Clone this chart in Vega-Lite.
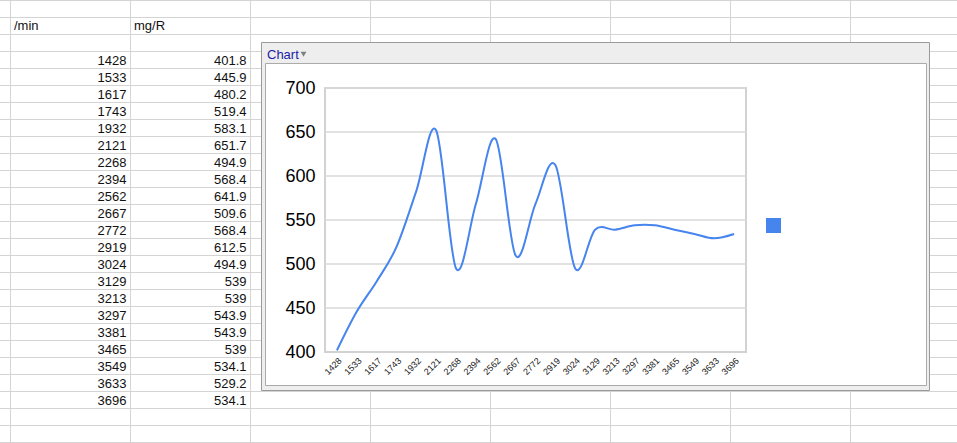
{
  "$schema": "https://vega.github.io/schema/vega-lite/v6.json",
  "width": 421,
  "height": 264,
  "autosize": {"type": "none"},
  "padding": {"left": 325, "top": 88, "right": 211, "bottom": 91},
  "background": "white",
  "config": {
    "view": {"stroke": null},
    "font": "Liberation Sans",
    "axis": {"grid": false, "domain": false, "ticks": false, "labelFont": "Liberation Sans", "labelColor": "#000000"},
    "axisX": {"labelAngle": 315, "labelFontSize": 9, "labelPadding": 4, "labelColor": "#222222"},
    "axisY": {"labelFontSize": 18, "labelPadding": 10}
  },
  "datasets": {
    "engine": [
      {"rpm": 1428, "mgR": 401.8},
      {"rpm": 1533, "mgR": 445.9},
      {"rpm": 1617, "mgR": 480.2},
      {"rpm": 1743, "mgR": 519.4},
      {"rpm": 1932, "mgR": 583.1},
      {"rpm": 2121, "mgR": 651.7},
      {"rpm": 2268, "mgR": 494.9},
      {"rpm": 2394, "mgR": 568.4},
      {"rpm": 2562, "mgR": 641.9},
      {"rpm": 2667, "mgR": 509.6},
      {"rpm": 2772, "mgR": 568.4},
      {"rpm": 2919, "mgR": 612.5},
      {"rpm": 3024, "mgR": 494.9},
      {"rpm": 3129, "mgR": 539},
      {"rpm": 3213, "mgR": 539},
      {"rpm": 3297, "mgR": 543.9},
      {"rpm": 3381, "mgR": 543.9},
      {"rpm": 3465, "mgR": 539},
      {"rpm": 3549, "mgR": 534.1},
      {"rpm": 3633, "mgR": 529.2},
      {"rpm": 3696, "mgR": 534.1}
    ],
    "sheetRows": [
      {"r": 0}, {"r": 1}, {"r": 2}, {"r": 3}, {"r": 4}, {"r": 5}, {"r": 6}, {"r": 7}, {"r": 8},
      {"r": 9}, {"r": 10}, {"r": 11}, {"r": 12}, {"r": 13}, {"r": 14}, {"r": 15}, {"r": 16},
      {"r": 17}, {"r": 18}, {"r": 19}, {"r": 20}, {"r": 21}, {"r": 22}, {"r": 23}, {"r": 24},
      {"r": 25}, {"r": 26}
    ],
    "sheetCols": [
      {"c": 0}, {"c": 1}, {"c": 2}, {"c": 3}, {"c": 4}, {"c": 5}, {"c": 6}, {"c": 7}
    ],
    "headers": [
      {"label": "/min", "col": 0},
      {"label": "mg/R", "col": 1}
    ],
    "gridY": [
      {"v": 450}, {"v": 500}, {"v": 550}, {"v": 600}, {"v": 650}, {"v": 700}
    ]
  },
  "layer": [
    {
      "layer": [
        {
          "data": {"name": "sheetRows"},
          "mark": {"type": "rule", "color": "#d4d4d4", "strokeWidth": 1},
          "encoding": {
            "y": {"field": "r", "type": "quantitative", "scale": {"domain": [5.147059, 20.676471], "reverse": true, "nice": false, "zero": false}, "axis": null},
            "x": {"datum": -0.2, "type": "quantitative", "scale": {"domain": [2.620833, 6.129167], "nice": false, "zero": false}, "axis": null},
            "x2": {"datum": 8}
          }
        },
        {
          "data": {"name": "sheetCols"},
          "mark": {"type": "rule", "color": "#d4d4d4", "strokeWidth": 1},
          "encoding": {
            "x": {"field": "c", "type": "quantitative", "scale": {"domain": [2.620833, 6.129167], "nice": false, "zero": false}, "axis": null},
            "y": {"datum": -0.1, "type": "quantitative", "scale": {"domain": [5.147059, 20.676471], "reverse": true, "nice": false, "zero": false}, "axis": null},
            "y2": {"datum": 26.2}
          }
        },
        {
          "data": {"values": [{}]},
          "mark": {"type": "rect", "fill": "#eeeeee", "stroke": "#9a9a9a", "strokeWidth": 1},
          "encoding": {
            "x": {"datum": 2.091667, "type": "quantitative", "axis": null},
            "x2": {"datum": 7.658333},
            "y": {"datum": 2.470588, "type": "quantitative", "axis": null},
            "y2": {"datum": 22.941176}
          }
        },
        {
          "data": {"values": [{}]},
          "mark": {"type": "rect", "fill": "#ffffff", "stroke": "#aaaaaa", "strokeWidth": 1},
          "encoding": {
            "x": {"datum": 2.125, "type": "quantitative", "axis": null},
            "x2": {"datum": 7.633333},
            "y": {"datum": 3.705882, "type": "quantitative", "axis": null},
            "y2": {"datum": 22.647059}
          }
        },
        {
          "data": {"values": [{}]},
          "mark": {"type": "text", "text": "Chart", "align": "left", "baseline": "middle", "fontSize": 13, "color": "#1c1ca6", "font": "Liberation Sans"},
          "encoding": {
            "x": {"datum": 2.1375, "type": "quantitative", "axis": null},
            "y": {"datum": 3.206, "type": "quantitative", "axis": null}
          }
        },
        {
          "data": {"values": [{}]},
          "mark": {"type": "point", "shape": "triangle-down", "size": 34, "filled": true, "color": "#808080", "opacity": 1},
          "encoding": {
            "x": {"datum": 2.4417, "type": "quantitative", "axis": null},
            "y": {"datum": 3.16, "type": "quantitative", "axis": null}
          }
        },
        {
          "data": {"name": "headers"},
          "mark": {"type": "text", "align": "left", "baseline": "middle", "dx": 3.5, "fontSize": 13, "color": "#111111", "font": "Liberation Sans"},
          "encoding": {
            "x": {"field": "col", "type": "quantitative", "axis": null},
            "y": {"datum": 1.5, "type": "quantitative", "axis": null},
            "text": {"field": "label", "type": "nominal"}
          }
        },
        {
          "data": {"name": "engine"},
          "transform": [{"window": [{"op": "row_number", "as": "rn"}]}],
          "mark": {"type": "text", "align": "right", "baseline": "middle", "dx": -4, "dy": 43.5, "fontSize": 13, "color": "#111111", "font": "Liberation Sans"},
          "encoding": {
            "x": {"datum": 1, "type": "quantitative", "axis": null},
            "y": {"field": "rn", "type": "quantitative", "axis": null},
            "text": {"field": "rpm", "type": "quantitative"}
          }
        },
        {
          "data": {"name": "engine"},
          "transform": [{"window": [{"op": "row_number", "as": "rn"}]}],
          "mark": {"type": "text", "align": "right", "baseline": "middle", "dx": -4, "dy": 43.5, "fontSize": 13, "color": "#111111", "font": "Liberation Sans"},
          "encoding": {
            "x": {"datum": 2, "type": "quantitative", "axis": null},
            "y": {"field": "rn", "type": "quantitative", "axis": null},
            "text": {"field": "mgR", "type": "quantitative"}
          }
        }
      ]
    },
    {
      "layer": [
        {
          "data": {"values": [{}]},
          "mark": {"type": "rect", "fill": "#ffffff", "stroke": "#d2d2d2", "strokeWidth": 2},
          "encoding": {
            "y": {"datum": 400, "type": "quantitative", "scale": {"domain": [400, 700], "nice": false, "zero": false}, "axis": {"orient": "left", "title": null, "zindex": 1, "values": [400, 450, 500, 550, 600, 650, 700]}},
            "y2": {"datum": 700}
          }
        },
        {
          "data": {"name": "gridY"},
          "mark": {"type": "rule", "color": "#d8d8d8", "strokeWidth": 1.5},
          "encoding": {
            "y": {"field": "v", "type": "quantitative", "scale": {"domain": [400, 700], "nice": false, "zero": false}, "axis": {"orient": "left", "title": null, "zindex": 1, "values": [400, 450, 500, 550, 600, 650, 700]}}
          }
        },
        {
          "data": {"name": "engine"},
          "mark": {"type": "line", "interpolate": "cardinal", "strokeWidth": 2},
          "encoding": {
            "x": {"field": "rpm", "type": "ordinal", "scale": {"padding": 0.6}, "axis": {"orient": "bottom", "title": null, "zindex": 1, "labelAngle": 315}},
            "y": {"field": "mgR", "type": "quantitative", "scale": {"domain": [400, 700], "nice": false, "zero": false}, "axis": {"orient": "left", "title": null, "zindex": 1, "values": [400, 450, 500, 550, 600, 650, 700]}},
            "color": {
              "datum": "mg/R",
              "scale": {"range": ["#4684ee"]},
              "legend": {
                "orient": "none", "legendX": 441, "legendY": 130, "title": null,
                "symbolType": "square", "symbolSize": 225, "labelExpr": "''", "padding": 0,
                "encode": {"symbols": {"update": {"fill": {"value": "#4684ee"}, "stroke": {"value": "#4684ee"}, "strokeWidth": {"value": 0}}}}
              }
            }
          }
        }
      ]
    }
  ],
  "resolve": {
    "scale": {"x": "independent", "y": "independent", "color": "independent"},
    "axis": {"x": "independent", "y": "independent"}
  }
}
